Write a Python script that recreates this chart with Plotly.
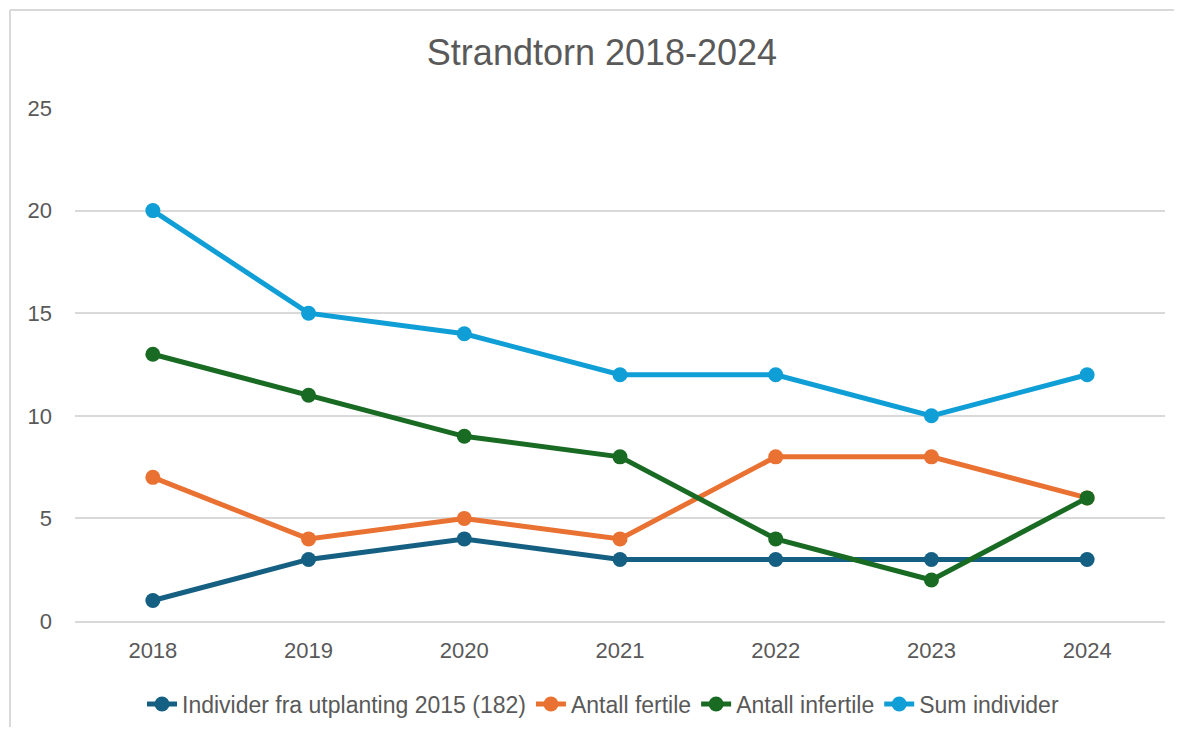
import plotly.graph_objects as go

years = ["2018", "2019", "2020", "2021", "2022", "2023", "2024"]
utplanting = [1, 3, 4, 3, 3, 3, 3]
fertile = [7, 4, 5, 4, 8, 8, 6]
infertile = [13, 11, 9, 8, 4, 2, 6]
sum_ind = [20, 15, 14, 12, 12, 10, 12]

names = ["Individer fra utplanting 2015 (182)", "Antall fertile", "Antall infertile", "Sum individer"]
colors = ["#156082", "#E97132", "#196B24", "#0F9ED5"]
series = [utplanting, fertile, infertile, sum_ind]

OFF = 8  # page body margin
W, H = 1184 - 2 * OFF, 737 - 2 * OFF
L, T = 75 - OFF, 108 - OFF
pw, ph = 1090, 513
R = W - L - pw
B = H - T - ph

fig = go.Figure()
for n, c, s in zip(names, colors, series):
    fig.add_trace(go.Scatter(x=years, y=s, name=n, mode="lines+markers",
                             line=dict(color=c, width=5),
                             marker=dict(color=c, size=15)))

def px_x(p):
    return (p - OFF - L) / pw
def px_y(p):
    return (T + ph - (p - OFF)) / ph

# outer chart frame (left and top edges visible in the reference crop)
fig.add_shape(type="line", xref="paper", yref="paper",
              x0=px_x(10), x1=px_x(10), y0=px_y(10), y1=px_y(OFF + H - 2),
              line=dict(color="#D9D9D9", width=2))
fig.add_shape(type="line", xref="paper", yref="paper",
              x0=px_x(10), x1=px_x(OFF + W - 2), y0=px_y(10), y1=px_y(10),
              line=dict(color="#D9D9D9", width=2))

font = "Liberation Sans"
fig.update_layout(
    width=W, height=H,
    margin=dict(l=L, r=R, t=T, b=B, autoexpand=False),
    paper_bgcolor="white", plot_bgcolor="white",
    font=dict(family=font, color="#595959", size=22),
    title=dict(text="Strandtorn 2018-2024", x=px_x(602), xanchor="center", xref="paper",
               y=1 - (52 - OFF) / H, yanchor="middle",
               font=dict(size=36, color="#595959", family=font)),
    xaxis=dict(type="category", range=[-0.5, 6.5], showgrid=False,
               showline=True, linecolor="#D9D9D9", linewidth=2, automargin=False,
               ticks="", tickfont=dict(size=22, color="#595959"), ticklabelstandoff=9),
    yaxis=dict(range=[0, 25], dtick=5, showgrid=True, gridcolor="#D9D9D9", gridwidth=1.5,
               zeroline=False, showline=False, ticks="", automargin=False,
               tickfont=dict(size=22, color="#595959"), ticklabelstandoff=22),
    legend=dict(orientation="h", x=px_x(603), xanchor="center", y=px_y(704), yanchor="middle",
                font=dict(size=23, color="#595959"), itemwidth=30, tracegroupgap=0),
    showlegend=True,
)
fig.write_html("out.html")
